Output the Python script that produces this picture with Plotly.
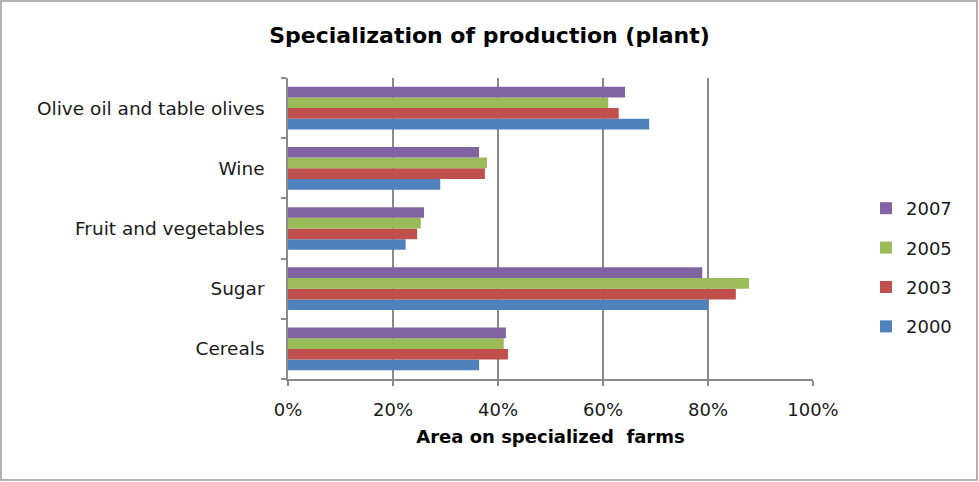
import plotly.graph_objects as go

categories = ["Cereals", "Sugar", "Fruit and vegetables", "Wine", "Olive oil and table olives"]
years = ["2000", "2003", "2005", "2007"]
v2000 = [0.364, 0.800, 0.224, 0.290, 0.688]
v2003 = [0.419, 0.853, 0.246, 0.375, 0.630]
v2005 = [0.411, 0.878, 0.253, 0.379, 0.610]
v2007 = [0.415, 0.789, 0.259, 0.364, 0.642]
series = [v2000, v2003, v2005, v2007]
colors = ["#4F81BD", "#C0504D", "#9BBB59", "#8064A2"]

fig = go.Figure()
for i, (name, vals, col) in enumerate(zip(years, series, colors)):
    fig.add_trace(go.Bar(
        y=categories, x=vals, name=name, orientation="h",
        marker=dict(color=col, line=dict(width=0)),
        legendgroup=name, legendrank=100 - i,
    ))

FONT = "DejaVu Sans, sans-serif"
W, H = 979, 482
L, R, T, B = 288, 166, 78, 103
pw, ph = W - L - R, H - T - B

fig.update_layout(
    width=W, height=H,
    margin=dict(l=L, r=R, t=T, b=B, pad=0),
    paper_bgcolor="white", plot_bgcolor="white",
    barmode="group", bargap=0.29, bargroupgap=0,
    font=dict(family=FONT, size=17.5, color="#1a1a1a"),
    title=dict(text="<b>Specialization of production (plant)</b>",
               x=0.5, xref="container", xanchor="center",
               y=1 - 35 / H, yanchor="middle",
               font=dict(family=FONT, size=22, color="#000000")),
    legend=dict(traceorder="grouped", x=(866 - L) / pw, xanchor="left",
                y=(H - B - 190) / ph, yanchor="top",
                font=dict(family=FONT, size=18, color="#1a1a1a"),
                tracegroupgap=13, bgcolor="rgba(0,0,0,0)",
                itemwidth=30),
    showlegend=True,
    xaxis=dict(range=[0, 1], dtick=0.2, tickformat=".0%",
               showgrid=True, gridcolor="#8a8a8a", gridwidth=1.5,
               showline=True, linecolor="#8a8a8a", linewidth=1.5,
               ticks="outside", ticklen=5, tickcolor="#8a8a8a", tickwidth=1.5,
               ticklabelstandoff=9, zeroline=False,
               tickfont=dict(size=18),
               title=dict(text="<b>Area on specialized  farms</b>",
                          font=dict(family=FONT, size=18, color="#000000"),
                          standoff=11)),
    yaxis=dict(showgrid=False, showline=True, linecolor="#8a8a8a", linewidth=1.5,
               ticks="outside", ticklen=5, tickcolor="#8a8a8a", tickwidth=1.5,
               ticklabelstandoff=18, tickson="boundaries",
               tickfont=dict(size=18.5)),
    shapes=[dict(type="rect", xref="paper", yref="paper",
                 x0=(1 - L) / pw, x1=(W - 2 - L) / pw,
                 y0=(H - B - (H - 2)) / ph, y1=(H - B - 1) / ph,
                 line=dict(color="#9a9a9a", width=1.5), fillcolor="rgba(0,0,0,0)",
                 layer="below")],
)

fig.write_html("out.html", config={"displayModeBar": False},
               post_script="document.body.style.margin='0';document.body.style.overflow='hidden';")
